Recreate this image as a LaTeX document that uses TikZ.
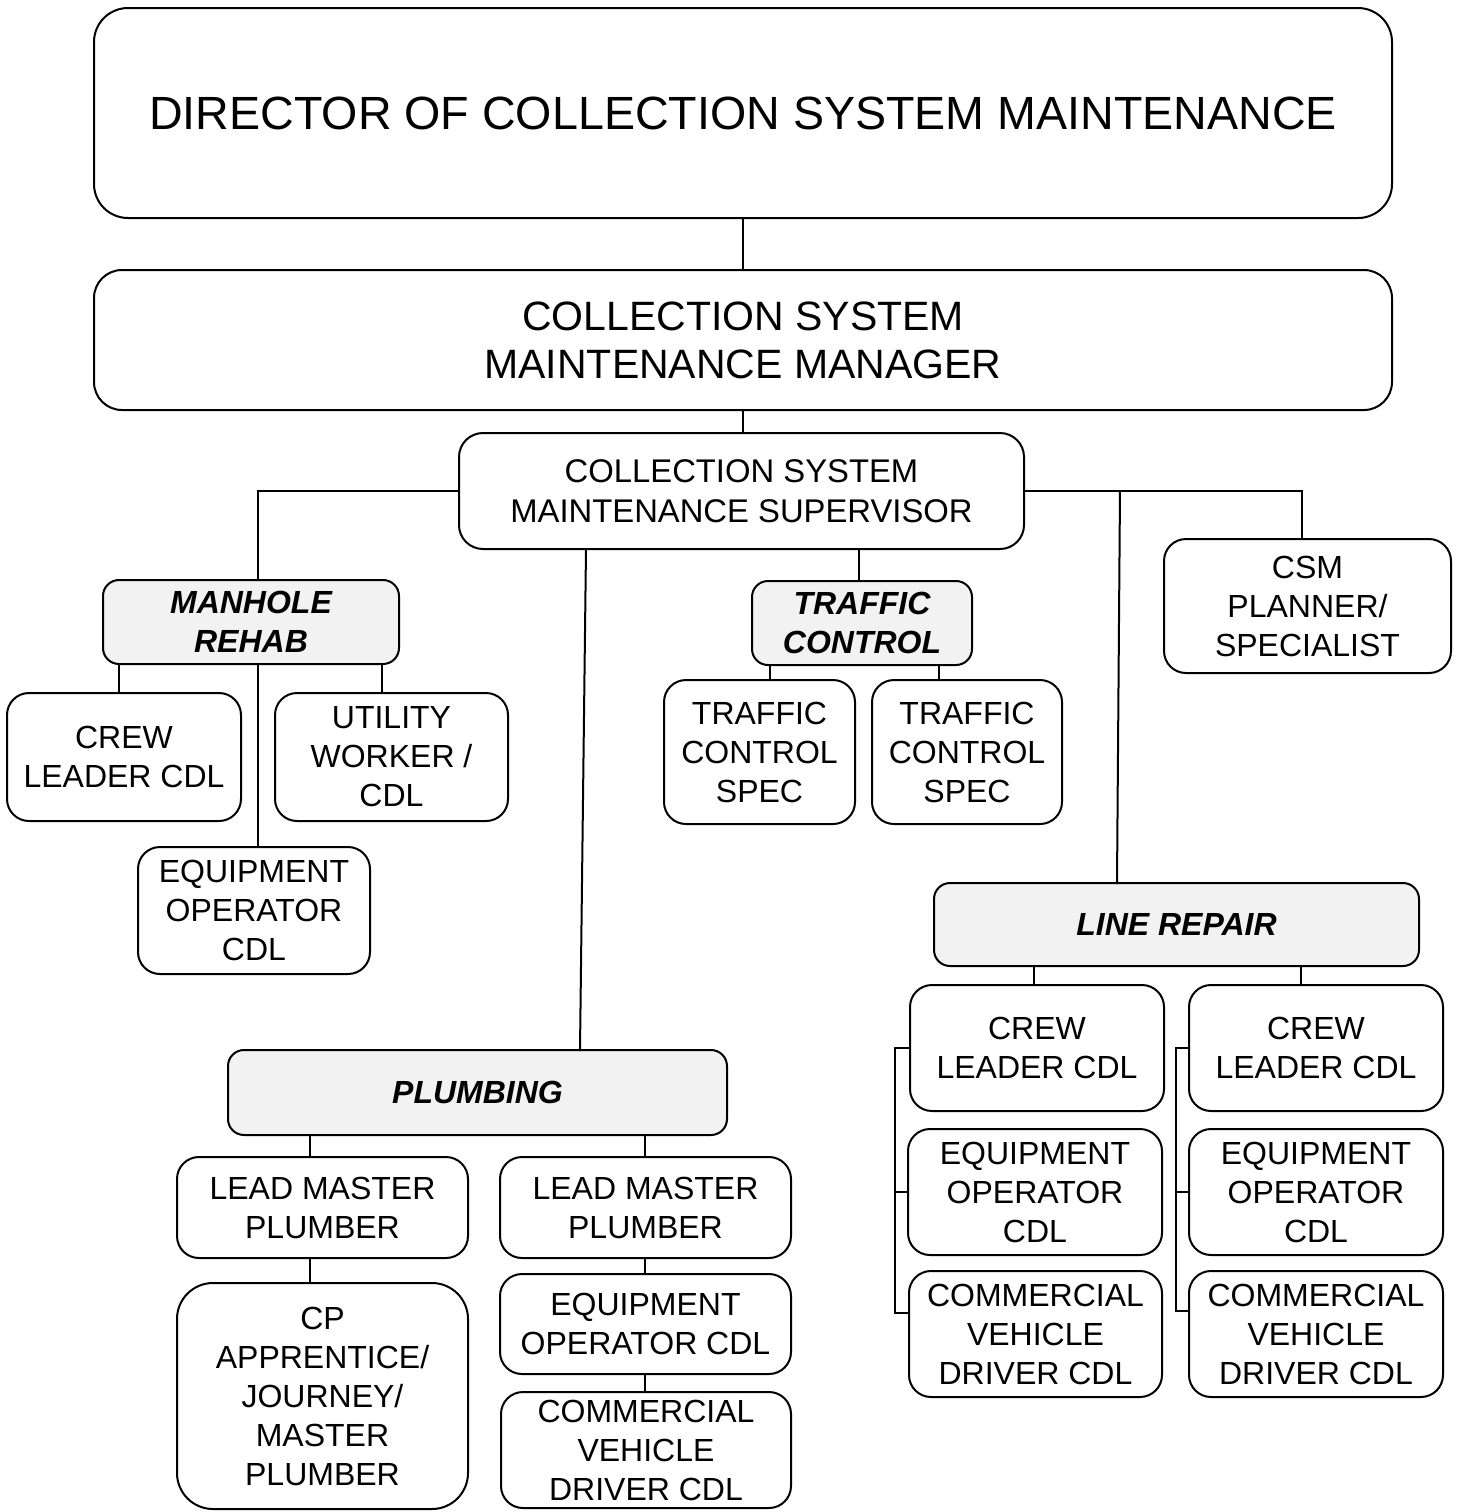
\documentclass[tikz,border=0pt]{standalone}
\usepackage{fontspec}
\setmainfont{Liberation Sans}
\definecolor{groupfill}{RGB}{242,242,242}
\newcommand{\orgbox}[7]{% name, style, x1, y1, x2, y2, text
  \node[#2, minimum width={(#5-#3)*0.5pt}, minimum height={(#6-#4)*0.5pt}]
    (#1) at ({(#3+#5)/2},{(#4+#6)/2}) {#7};}
\begin{document}
\begin{tikzpicture}[x=0.5pt,y=-0.5pt,
  base/.style={draw=black, line width=1pt, inner sep=0pt, outer sep=0pt,
    align=center, text=black},
  role/.style={base, rounded corners=11pt, fill=white,
    font=\fontsize{16}{19.5}\selectfont},
  group/.style={base, rounded corners=8pt, fill=groupfill,
    font=\fontsize{16}{19.5}\selectfont\bfseries\itshape},
  link/.style={line width=1pt, line cap=rect}]
\useasboundingbox (0,0) rectangle (1458,1512);

% top of the hierarchy
\orgbox{dir}{base, rounded corners=17pt, font=\fontsize{23.3}{28}\selectfont}{94}{8}{1392}{218}{DIRECTOR OF COLLECTION SYSTEM MAINTENANCE}
\orgbox{mgr}{base, rounded corners=14pt, font=\fontsize{20.5}{24}\selectfont}{94}{270}{1392}{410}{COLLECTION SYSTEM\\MAINTENANCE MANAGER}
\orgbox{sup}{base, rounded corners=12pt, font=\fontsize{16.4}{20}\selectfont}{459}{433}{1024}{549}{COLLECTION SYSTEM\\MAINTENANCE SUPERVISOR}

% manhole rehab
\orgbox{mh}{group}{103}{580}{399}{664}{MANHOLE\\REHAB}
\orgbox{crew}{role}{7}{693}{241}{821}{CREW\\LEADER CDL}
\orgbox{util}{role}{275}{693}{508}{821}{UTILITY\\WORKER /\\CDL}
\orgbox{eqm}{role}{138}{847}{370}{974}{EQUIPMENT\\OPERATOR\\CDL}

% traffic control
\orgbox{tc}{group}{752}{581}{972}{665}{TRAFFIC\\CONTROL}
\orgbox{tcsA}{role}{664}{680}{855}{824}{TRAFFIC\\CONTROL\\SPEC}
\orgbox{tcsB}{role}{872}{680}{1062}{824}{TRAFFIC\\CONTROL\\SPEC}

% planner
\orgbox{csm}{role}{1164}{539}{1451}{673}{CSM\\PLANNER/\\SPECIALIST}

% line repair
\orgbox{lr}{group}{934}{883}{1419}{966}{LINE REPAIR}
\orgbox{crewA}{role}{910}{985}{1164}{1111}{CREW\\LEADER CDL}
\orgbox{eqA}{role}{908}{1129}{1162}{1255}{EQUIPMENT\\OPERATOR\\CDL}
\orgbox{commA}{role}{909}{1271}{1162}{1397}{COMMERCIAL\\VEHICLE\\DRIVER CDL}
\orgbox{crewB}{role}{1189}{985}{1443}{1111}{CREW\\LEADER CDL}
\orgbox{eqB}{role}{1189}{1129}{1443}{1255}{EQUIPMENT\\OPERATOR\\CDL}
\orgbox{commB}{role}{1189}{1271}{1443}{1397}{COMMERCIAL\\VEHICLE\\DRIVER CDL}

% plumbing
\orgbox{pl}{group}{228}{1050}{727}{1135}{PLUMBING}
\orgbox{leadA}{role}{177}{1157}{468}{1258}{LEAD MASTER\\PLUMBER}
\orgbox{leadB}{role}{500}{1157}{791}{1258}{LEAD MASTER\\PLUMBER}
\orgbox{cp}{role, rounded corners=18pt}{177}{1283}{468}{1509}{CP\\APPRENTICE/\\JOURNEY/\\MASTER\\PLUMBER}
\orgbox{peq}{role}{500}{1274}{791}{1374}{EQUIPMENT\\OPERATOR CDL}
\orgbox{pcomm}{role}{501}{1392}{791}{1508}{COMMERCIAL\\VEHICLE\\DRIVER CDL}

% branch positions
\coordinate (xmh) at (258,0);
\coordinate (xmc) at (119,0);
\coordinate (xmu) at (382,0);
\coordinate (xtc) at (859,0);
\coordinate (xtA) at (770,0);
\coordinate (xtB) at (939,0);
\coordinate (xcsm) at (1302,0);
\coordinate (xlrA) at (1120,0);
\coordinate (xlrB) at (1117,0);
\coordinate (xplA) at (586,0);
\coordinate (xplB) at (580,0);
\coordinate (xlA) at (1034,0);
\coordinate (xlB) at (1301,0);
\coordinate (brA) at (895,1313);
\coordinate (brB) at (1176,1311);
\coordinate (xpA) at (310,0);
\coordinate (xpB) at (645,0);

% connectors
\draw[link] (dir.south) -- (dir.south |- mgr.north);
\draw[link] (mgr.south) -- (mgr.south |- sup.north);
\draw[link] (sup.west) -| (xmh |- mh.north);
\draw[link] (xmh |- mh.south) -- (xmh |- eqm.north);
\draw[link] (xmc |- mh.south) -- (xmc |- crew.north);
\draw[link] (xmu |- mh.south) -- (xmu |- util.north);
\draw[link] (xtc |- sup.south) -- (xtc |- tc.north);
\draw[link] (xtA |- tc.south) -- (xtA |- tcsA.north);
\draw[link] (xtB |- tc.south) -- (xtB |- tcsB.north);
\draw[link] (sup.east) -| (xcsm |- csm.north);
\draw[link] (xlrA |- sup.east) -- (xlrB |- lr.north);
\draw[link] (xplA |- sup.south) -- (xplB |- pl.north);
\draw[link] (xlA |- lr.south) -- (xlA |- crewA.north);
\draw[link] (xlB |- lr.south) -- (xlB |- crewB.north);
\draw[link] (crewA.west) -| (brA) -- (brA -| commA.west);
\draw[link] (eqA.west) -- (eqA.west -| brA);
\draw[link] (crewB.west) -| (brB) -- (brB -| commB.west);
\draw[link] (eqB.west) -- (eqB.west -| brB);
\draw[link] (xpA |- pl.south) -- (xpA |- leadA.north);
\draw[link] (xpB |- pl.south) -- (xpB |- leadB.north);
\draw[link] (xpA |- leadA.south) -- (xpA |- cp.north);
\draw[link] (xpB |- leadB.south) -- (xpB |- peq.north);
\draw[link] (xpB |- peq.south) -- (xpB |- pcomm.north);
\end{tikzpicture}
\end{document}
